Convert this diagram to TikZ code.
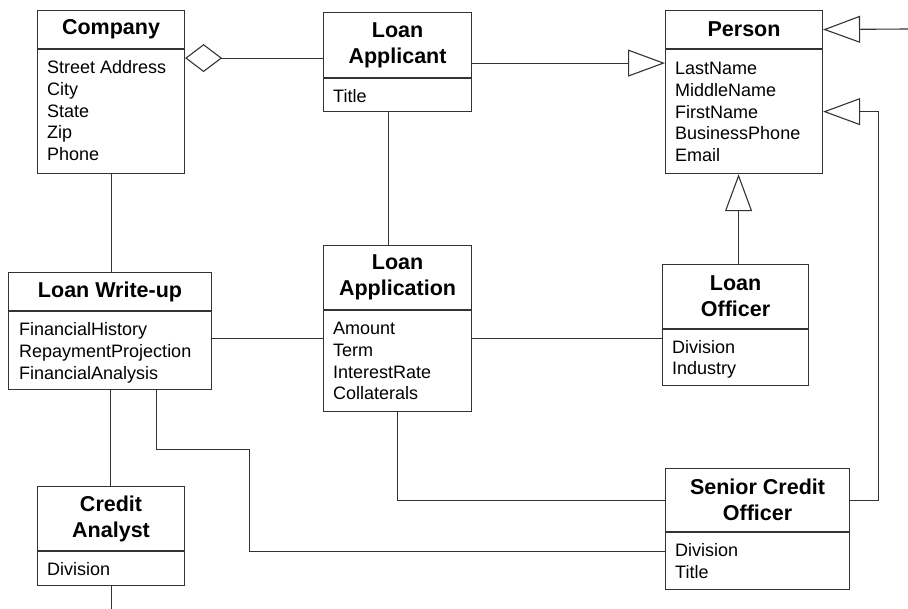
\documentclass[tikz,border=0pt]{standalone}
\usepackage{fontspec}
\setmainfont{Liberation Sans}
\usetikzlibrary{arrows.meta,calc}
\definecolor{edge}{HTML}{333333}

\tikzset{
  hdr/.style={draw=edge,line width=1.1pt,anchor=north west,inner sep=0pt,align=center,
    font=\fontsize{21.5}{26}\selectfont\bfseries},
  bdy/.style={draw=edge,line width=1.1pt,anchor=north west,inner sep=0pt},
  attr/.style={anchor=base west,inner sep=0pt,font=\fontsize{18}{21.8}\selectfont},
  link/.style={draw=edge,line width=1.1pt},
  gen/.style={-{Triangle[open,length=37pt,width=27pt]}},
  aggr/.style={-{Diamond[open,length=37pt,width=28pt]}},
}

\begin{document}
\begin{tikzpicture}[x=1pt,y=-1pt]
  \useasboundingbox (0,0) rectangle (908,609);
  % classes
  \node[hdr,minimum width=147pt,minimum height=38pt] (company) at (37,10) {Company};
  \node[bdy,minimum width=147pt,minimum height=124pt] (company-b) at (company.south west) {};
  \foreach \a [count=\i, evaluate=\i as \dy using 24.5+(\i-1)*21.8] in {Street Address,City,State,Zip,Phone}
    \node[attr] (company-\i) at ([xshift=10pt,yshift=-\dy pt]company-b.north west) {\a};

  \node[hdr,minimum width=148pt,minimum height=65pt] (applicant) at (323,12) {Loan\\Applicant};
  \node[bdy,minimum width=148pt,minimum height=33pt] (applicant-b) at (applicant.south west) {};
  \foreach \a [count=\i, evaluate=\i as \dy using 24.5+(\i-1)*21.8] in {Title}
    \node[attr] (applicant-\i) at ([xshift=10pt,yshift=-\dy pt]applicant-b.north west) {\a};

  \node[hdr,minimum width=157pt,minimum height=38pt] (person) at (665,10) {Person};
  \node[bdy,minimum width=157pt,minimum height=124pt] (person-b) at (person.south west) {};
  \foreach \a [count=\i, evaluate=\i as \dy using 25.5+(\i-1)*21.8] in {LastName,MiddleName,FirstName,BusinessPhone,Email}
    \node[attr] (person-\i) at ([xshift=10pt,yshift=-\dy pt]person-b.north west) {\a};

  \node[hdr,minimum width=203pt,minimum height=38pt] (writeup) at (8,272) {Loan Write-up};
  \node[bdy,minimum width=203pt,minimum height=78pt] (writeup-b) at (writeup.south west) {};
  \foreach \a [count=\i, evaluate=\i as \dy using 24+(\i-1)*22.3] in {FinancialHistory,RepaymentProjection,FinancialAnalysis}
    \node[attr] (writeup-\i) at ([xshift=11pt,yshift=-\dy pt]writeup-b.north west) {\a};

  \node[hdr,minimum width=148pt,minimum height=64pt] (application) at (323,245) {Loan\\Application};
  \node[bdy,minimum width=148pt,minimum height=101pt] (application-b) at (application.south west) {};
  \foreach \a [count=\i, evaluate=\i as \dy using 24.5+(\i-1)*21.8] in {Amount,Term,InterestRate,Collaterals}
    \node[attr] (application-\i) at ([xshift=10pt,yshift=-\dy pt]application-b.north west) {\a};

  \node[hdr,minimum width=146pt,minimum height=64pt] (officer) at (662,264) {Loan\\Officer};
  \node[bdy,minimum width=146pt,minimum height=56pt] (officer-b) at (officer.south west) {};
  \foreach \a [count=\i, evaluate=\i as \dy using 24+(\i-1)*21.8] in {Division,Industry}
    \node[attr] (officer-\i) at ([xshift=10pt,yshift=-\dy pt]officer-b.north west) {\a};

  \node[hdr,minimum width=147pt,minimum height=64pt] (analyst) at (37,486) {Credit\\Analyst};
  \node[bdy,minimum width=147pt,minimum height=34pt] (analyst-b) at (analyst.south west) {};
  \foreach \a [count=\i, evaluate=\i as \dy using 24.5+(\i-1)*21.8] in {Division}
    \node[attr] (analyst-\i) at ([xshift=10pt,yshift=-\dy pt]analyst-b.north west) {\a};

  \node[hdr,minimum width=184pt,minimum height=63pt] (senior) at (665,468) {Senior Credit\\Officer};
  \node[bdy,minimum width=184pt,minimum height=57pt] (senior-b) at (senior.south west) {};
  \foreach \a [count=\i, evaluate=\i as \dy using 24.5+(\i-1)*21.8] in {Division,Title}
    \node[attr] (senior-\i) at ([xshift=10pt,yshift=-\dy pt]senior-b.north west) {\a};

  % associations
  \coordinate (ext) at (908,29);
  \coordinate (agg) at ([yshift=-9pt]company-b.north east);
  \coordinate (spec) at ([yshift=-14pt]person-b.north west);
  \coordinate (mid) at ([yshift=12pt]writeup-b.east);
  \draw[link] (company-b.south) -- (company-b.south |- writeup.north);
  \draw[link,aggr] (agg -| applicant.west) -- (agg);
  \draw[link] ([xshift=-9pt]applicant-b.south) -- ([xshift=-9pt]applicant-b.south |- application.north);
  \draw[link,gen] (spec -| applicant.east) -- (spec);
  \draw[link,gen] (ext) -- (person.east);
  \draw[link,gen] (senior.east) -- ++(28,0) |- (person-b.east);
  \draw[link,gen] ([xshift=3pt]officer.north) -- ([xshift=3pt]officer.north |- person-b.south);
  \draw[link] (mid) -- (mid -| application-b.west);
  \draw[link] (mid -| application-b.east) -- (mid -| officer-b.west);
  \draw[link] (application-b.south) |- (senior.west);
  \draw[link] ([xshift=46pt]writeup-b.south) -- ++(0,59) -- ++(93,0) |- ([yshift=10pt]senior-b.west);
  \draw[link] (writeup-b.south) -- (writeup-b.south |- analyst.north);
  \draw[link] (analyst-b.south) -- ++(0,25);
\end{tikzpicture}
\end{document}
